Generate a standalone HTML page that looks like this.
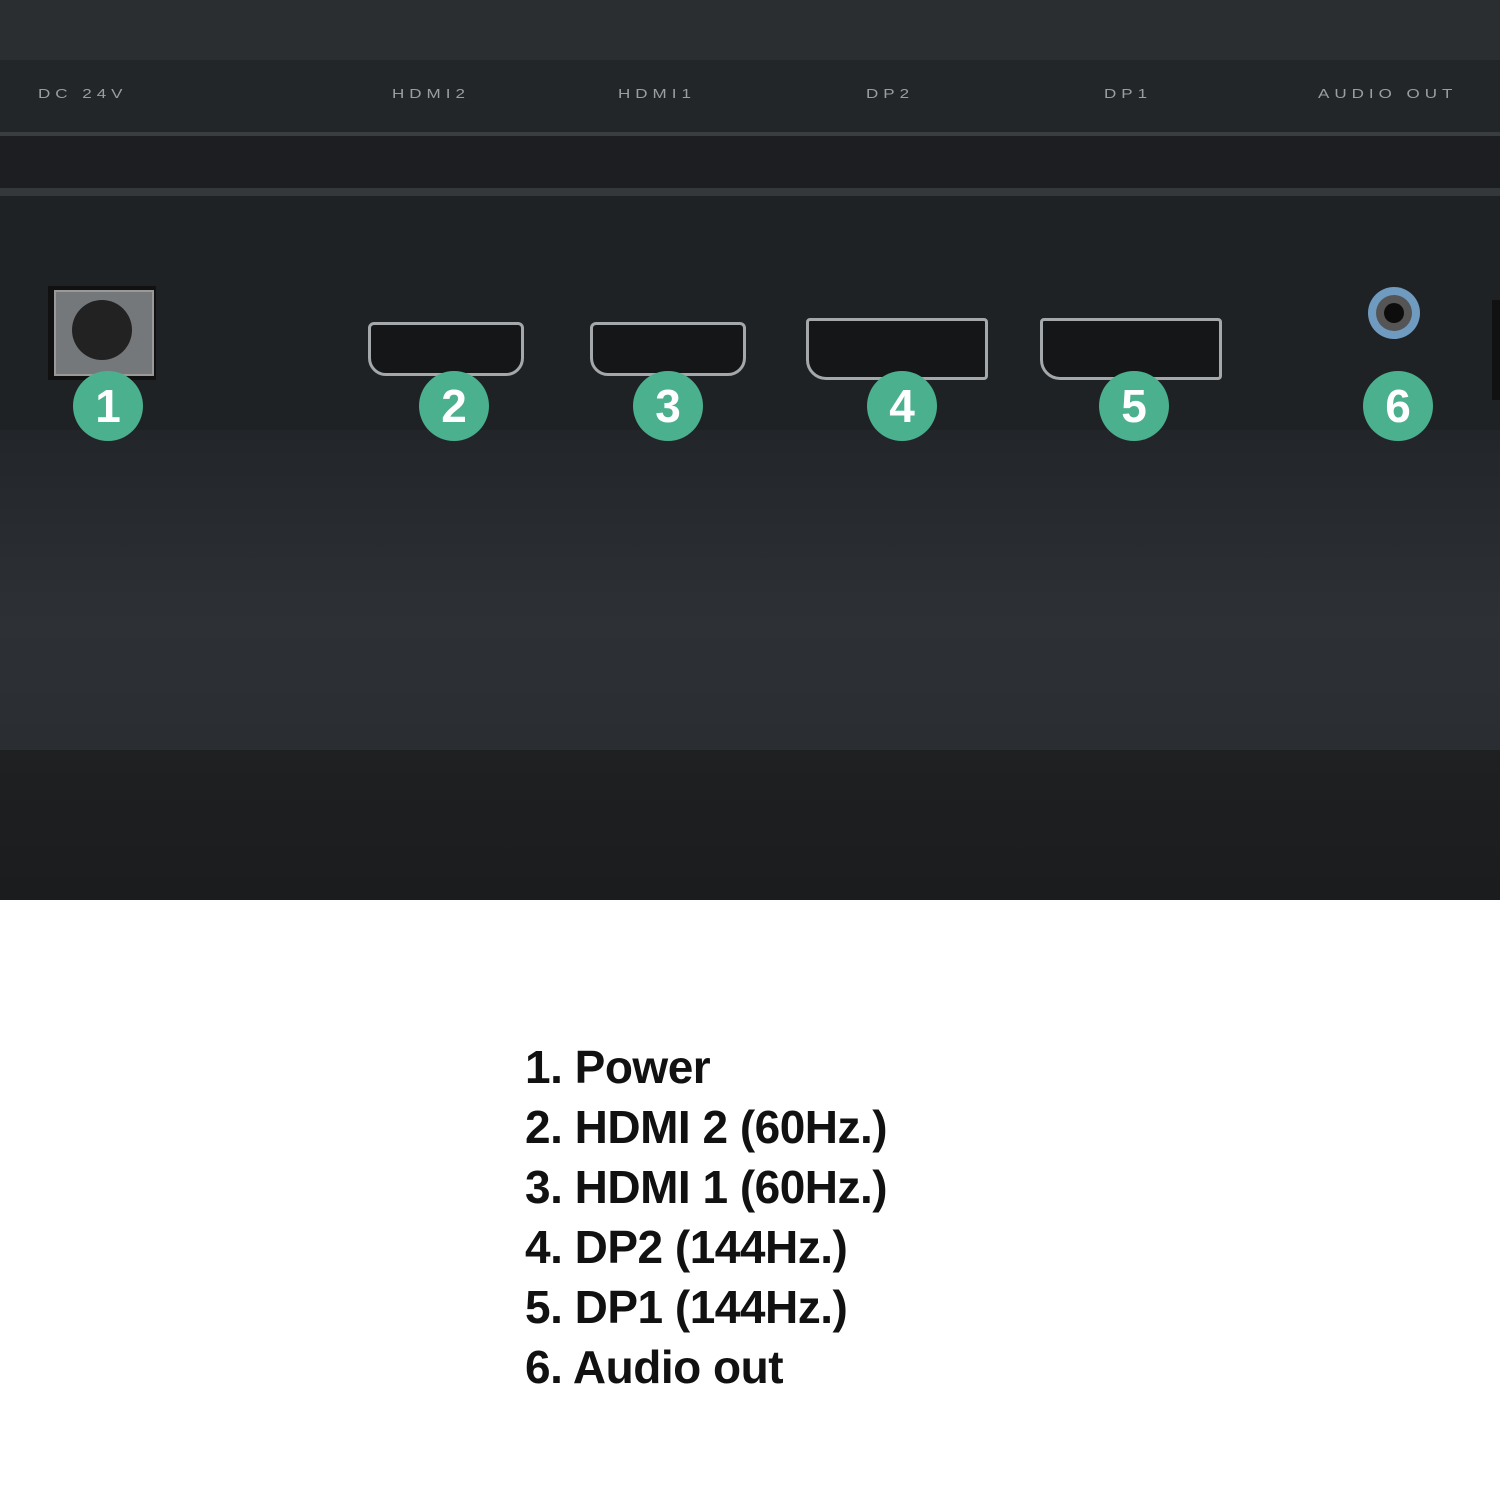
<!DOCTYPE html>
<html><head><meta charset="utf-8"><style>
html,body{margin:0;padding:0;width:1500px;height:1500px;background:#fff;overflow:hidden}
.p{position:absolute;left:0;width:1500px}
.lbl{position:absolute;top:84px;color:#9a9ea2;font:17px "Liberation Sans",sans-serif;letter-spacing:5px;transform:scaleY(0.75);transform-origin:left center}
.c{position:absolute;top:371px;width:70px;height:70px;border-radius:50%;background:#4bb08e;color:#fff;font:bold 46px "Liberation Sans",sans-serif;text-align:center;line-height:70px}
.port{position:absolute;border:3px solid #a4a8aa;background:#151618}
.list{position:absolute;left:525px;top:1037px;font:bold 46px/60px "Liberation Sans",sans-serif;color:#111;letter-spacing:-0.5px}
</style></head><body>
<div class="p" style="top:0;height:60px;background:#2b2e31"></div>
<div class="p" style="top:60px;height:72px;background:#232629"></div>
<div class="p" style="top:132px;height:4px;background:#3a3d40"></div>
<div class="p" style="top:136px;height:52px;background:#1c1e21"></div>
<div class="p" style="top:188px;height:8px;background:#34383b"></div>
<div class="p" style="top:196px;height:234px;background:#1f2225"></div>
<div class="p" style="top:430px;height:320px;background:linear-gradient(#22262a,#2d3135 60%,#2a2e32)"></div>
<div class="p" style="top:750px;height:150px;background:linear-gradient(#1e2022,#1a1c1e)"></div>
<div style="position:absolute;left:1492px;top:300px;width:8px;height:100px;background:#111"></div>
<div class="lbl" style="left:38px">DC 24V</div>
<div class="lbl" style="left:392px">HDMI2</div>
<div class="lbl" style="left:618px">HDMI1</div>
<div class="lbl" style="left:866px">DP2</div>
<div class="lbl" style="left:1104px">DP1</div>
<div class="lbl" style="left:1318px">AUDIO OUT</div>
<div style="position:absolute;left:48px;top:286px;width:108px;height:94px;background:#111"></div>
<div style="position:absolute;left:54px;top:290px;width:96px;height:82px;background:#75787a;border:2px solid #999"></div>
<div style="position:absolute;left:72px;top:300px;width:60px;height:60px;border-radius:50%;background:#222"></div>
<div class="port" style="left:368px;top:322px;width:150px;height:48px;border-radius:6px 6px 18px 18px"></div>
<div class="port" style="left:590px;top:322px;width:150px;height:48px;border-radius:6px 6px 18px 18px"></div>
<div class="port" style="left:806px;top:318px;width:176px;height:56px;border-radius:4px 4px 4px 20px"></div>
<div class="port" style="left:1040px;top:318px;width:176px;height:56px;border-radius:4px 4px 4px 20px"></div>
<div style="position:absolute;left:1368px;top:287px;width:52px;height:52px;border-radius:50%;background:#6f9bc0"></div>
<div style="position:absolute;left:1376px;top:295px;width:36px;height:36px;border-radius:50%;background:#555"></div>
<div style="position:absolute;left:1384px;top:303px;width:20px;height:20px;border-radius:50%;background:#0d0d0d"></div>
<div class="c" style="left:73px">1</div>
<div class="c" style="left:419px">2</div>
<div class="c" style="left:633px">3</div>
<div class="c" style="left:867px">4</div>
<div class="c" style="left:1099px">5</div>
<div class="c" style="left:1363px">6</div>
<div class="list">1. Power<br>2. HDMI 2 (60Hz.)<br>3. HDMI 1 (60Hz.)<br>4. DP2 (144Hz.)<br>5. DP1 (144Hz.)<br>6. Audio out</div>
</body></html>
